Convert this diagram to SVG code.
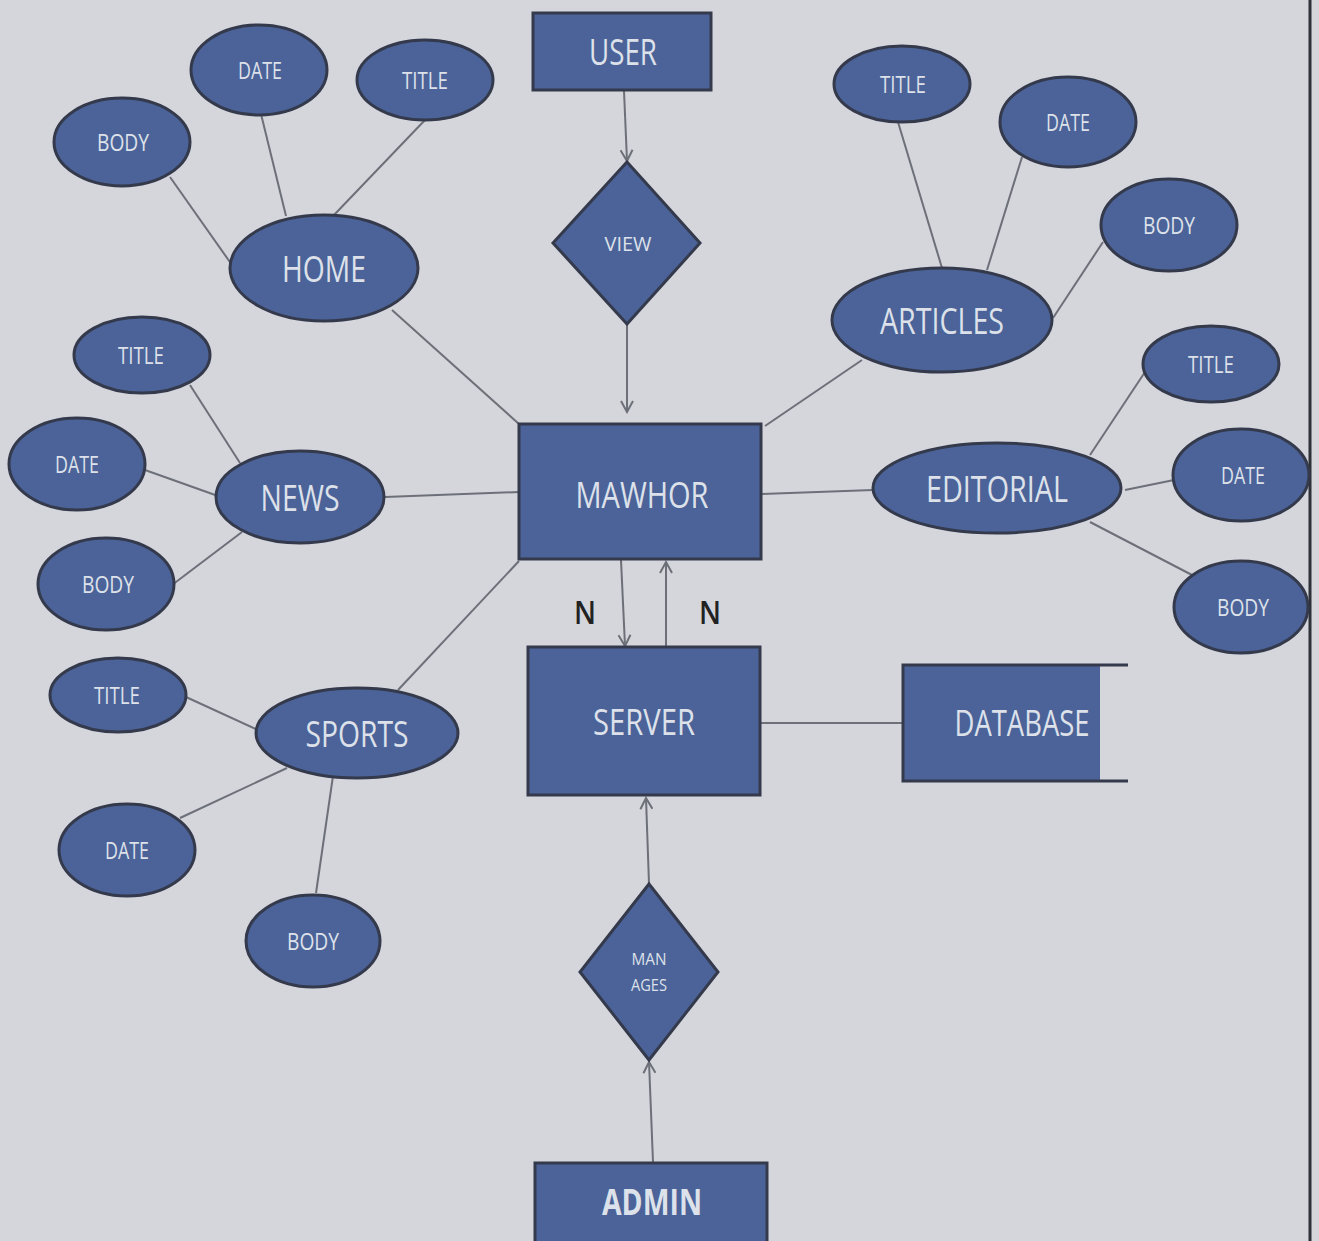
<svg xmlns="http://www.w3.org/2000/svg" width="1319" height="1241" viewBox="0 0 1319 1241">
<style>
.n{fill:#4b6398;stroke:#343a4c;stroke-width:3}
.t{fill:#dde1ea;font-family:"Open Sans","Liberation Sans",sans-serif;text-anchor:middle}
.a{font-size:24px}
.e{font-size:36px}
.c line{stroke:#6d7078;stroke-width:2}
.c line.ar{marker-end:url(#ah)}
.nl{font-family:"Open Sans","Liberation Sans",sans-serif;font-size:32px;font-weight:600;fill:#222;text-anchor:middle}
</style>
<defs>
<marker id="ah" markerWidth="14" markerHeight="14" refX="12" refY="7" orient="auto" markerUnits="userSpaceOnUse">
<polyline points="1,1 12,7 1,13" fill="none" stroke="#6d7078" stroke-width="2"/>
</marker>
</defs>
<rect x="0" y="0" width="1319" height="1241" fill="#d4d6dc"/>
<line x1="1310" y1="0" x2="1310" y2="1241" stroke="#2e3138" stroke-width="3"/>
<g class="c" id="connectors">
<line class="ar" x1="624" y1="91" x2="627" y2="161"/>
<line class="ar" x1="627" y1="325" x2="627" y2="412"/>
<line class="ar" x1="621" y1="560" x2="625" y2="646"/>
<line class="ar" x1="666" y1="646" x2="666" y2="562"/>
<line class="ar" x1="649" y1="884" x2="646" y2="798"/>
<line class="ar" x1="653" y1="1162" x2="649" y2="1062"/>
<line x1="760" y1="723" x2="903" y2="723"/>
<line x1="392" y1="310" x2="519" y2="424"/>
<line x1="170" y1="177" x2="232" y2="265"/>
<line x1="261" y1="114" x2="286" y2="216"/>
<line x1="425" y1="120" x2="334" y2="215"/>
<line x1="862" y1="360" x2="765" y2="426"/>
<line x1="898" y1="122" x2="942" y2="268"/>
<line x1="1022" y1="157" x2="987" y2="270"/>
<line x1="1103" y1="242" x2="1053" y2="318"/>
<line x1="385" y1="497" x2="519" y2="492"/>
<line x1="190" y1="385" x2="240" y2="463"/>
<line x1="145" y1="470" x2="218" y2="496"/>
<line x1="172" y1="585" x2="242" y2="532"/>
<line x1="873" y1="490" x2="761" y2="494"/>
<line x1="1145" y1="372" x2="1090" y2="455"/>
<line x1="1174" y1="480" x2="1125" y2="490"/>
<line x1="1192" y1="575" x2="1090" y2="522"/>
<line x1="398" y1="690" x2="519" y2="561"/>
<line x1="186" y1="697" x2="258" y2="730"/>
<line x1="180" y1="818" x2="287" y2="768"/>
<line x1="316" y1="893" x2="333" y2="776"/>
</g>
<g id="user"><rect class="n" x="533" y="13" width="178" height="77"/><text class="t e" x="623" y="65" textLength="68" lengthAdjust="spacingAndGlyphs">USER</text></g>
<g id="view"><polygon class="n" points="627,162 700,243 627,324 553,243"/><text class="t" x="628" y="251" font-size="20" textLength="47" lengthAdjust="spacingAndGlyphs">VIEW</text></g>
<g id="mawhor"><rect class="n" x="519" y="424" width="242" height="135"/><text class="t e" x="642" y="508" textLength="133" lengthAdjust="spacingAndGlyphs">MAWHOR</text></g>
<g id="server"><rect class="n" x="528" y="647" width="232" height="148"/><text class="t e" x="644" y="735" textLength="102" lengthAdjust="spacingAndGlyphs">SERVER</text></g>
<g id="database"><rect x="903" y="664" width="197" height="117" fill="#4b6398"/><polyline points="1128,665 903,665 903,781 1128,781" fill="none" stroke="#343a4c" stroke-width="3"/><text class="t e" x="1022" y="736" textLength="135" lengthAdjust="spacingAndGlyphs">DATABASE</text></g>
<g id="manages"><polygon class="n" points="649,884 718,972 649,1060 580,972"/><text class="t" x="649" y="965" font-size="16" textLength="35" lengthAdjust="spacingAndGlyphs">MAN</text><text class="t" x="649" y="991" font-size="16" textLength="36" lengthAdjust="spacingAndGlyphs">AGES</text></g>
<g id="admin"><rect class="n" x="535" y="1163" width="232" height="90"/><text class="t e" x="652" y="1215" font-weight="bold" fill="#e4e7ee" textLength="100" lengthAdjust="spacingAndGlyphs">ADMIN</text></g>
<g id="n1"><text class="nl" x="585" y="624" textLength="22" lengthAdjust="spacingAndGlyphs">N</text></g>
<g id="n2"><text class="nl" x="710" y="624" textLength="22" lengthAdjust="spacingAndGlyphs">N</text></g>

<g id="home"><ellipse class="n" cx="324" cy="268" rx="94" ry="53"/><text class="t e" x="324" y="282" textLength="84" lengthAdjust="spacingAndGlyphs">HOME</text></g>
<g id="home-date"><ellipse class="n" cx="259" cy="70" rx="68" ry="45"/><text class="t a" x="260" y="79" textLength="44" lengthAdjust="spacingAndGlyphs">DATE</text></g>
<g id="home-title"><ellipse class="n" cx="425" cy="80" rx="68" ry="40"/><text class="t a" x="425" y="89" textLength="46" lengthAdjust="spacingAndGlyphs">TITLE</text></g>
<g id="home-body"><ellipse class="n" cx="122" cy="142" rx="68" ry="44"/><text class="t a" x="123" y="151" textLength="52" lengthAdjust="spacingAndGlyphs">BODY</text></g>

<g id="articles"><ellipse class="n" cx="942" cy="320" rx="110" ry="52"/><text class="t e" x="942" y="334" textLength="124" lengthAdjust="spacingAndGlyphs">ARTICLES</text></g>
<g id="articles-title"><ellipse class="n" cx="902" cy="84" rx="68" ry="38"/><text class="t a" x="903" y="93" textLength="46" lengthAdjust="spacingAndGlyphs">TITLE</text></g>
<g id="articles-date"><ellipse class="n" cx="1068" cy="122" rx="68" ry="45"/><text class="t a" x="1068" y="131" textLength="44" lengthAdjust="spacingAndGlyphs">DATE</text></g>
<g id="articles-body"><ellipse class="n" cx="1169" cy="225" rx="68" ry="46"/><text class="t a" x="1169" y="234" textLength="52" lengthAdjust="spacingAndGlyphs">BODY</text></g>

<g id="news"><ellipse class="n" cx="300" cy="497" rx="84" ry="46"/><text class="t e" x="300" y="511" textLength="79" lengthAdjust="spacingAndGlyphs">NEWS</text></g>
<g id="news-title"><ellipse class="n" cx="142" cy="355" rx="68" ry="38"/><text class="t a" x="141" y="364" textLength="46" lengthAdjust="spacingAndGlyphs">TITLE</text></g>
<g id="news-date"><ellipse class="n" cx="77" cy="464" rx="68" ry="46"/><text class="t a" x="77" y="473" textLength="44" lengthAdjust="spacingAndGlyphs">DATE</text></g>
<g id="news-body"><ellipse class="n" cx="106" cy="584" rx="68" ry="46"/><text class="t a" x="108" y="593" textLength="52" lengthAdjust="spacingAndGlyphs">BODY</text></g>

<g id="editorial"><ellipse class="n" cx="997" cy="488" rx="124" ry="45"/><text class="t e" x="997" y="502" textLength="142" lengthAdjust="spacingAndGlyphs">EDITORIAL</text></g>
<g id="editorial-title"><ellipse class="n" cx="1211" cy="364" rx="68" ry="38"/><text class="t a" x="1211" y="373" textLength="46" lengthAdjust="spacingAndGlyphs">TITLE</text></g>
<g id="editorial-date"><ellipse class="n" cx="1241" cy="475" rx="68" ry="46"/><text class="t a" x="1243" y="484" textLength="44" lengthAdjust="spacingAndGlyphs">DATE</text></g>
<g id="editorial-body"><ellipse class="n" cx="1241" cy="607" rx="67" ry="46"/><text class="t a" x="1243" y="616" textLength="52" lengthAdjust="spacingAndGlyphs">BODY</text></g>

<g id="sports"><ellipse class="n" cx="357" cy="733" rx="101" ry="45"/><text class="t e" x="357" y="747" textLength="103" lengthAdjust="spacingAndGlyphs">SPORTS</text></g>
<g id="sports-title"><ellipse class="n" cx="118" cy="695" rx="68" ry="37"/><text class="t a" x="117" y="704" textLength="46" lengthAdjust="spacingAndGlyphs">TITLE</text></g>
<g id="sports-date"><ellipse class="n" cx="127" cy="850" rx="68" ry="46"/><text class="t a" x="127" y="859" textLength="44" lengthAdjust="spacingAndGlyphs">DATE</text></g>
<g id="sports-body"><ellipse class="n" cx="313" cy="941" rx="67" ry="46"/><text class="t a" x="313" y="950" textLength="52" lengthAdjust="spacingAndGlyphs">BODY</text></g>
</svg>
